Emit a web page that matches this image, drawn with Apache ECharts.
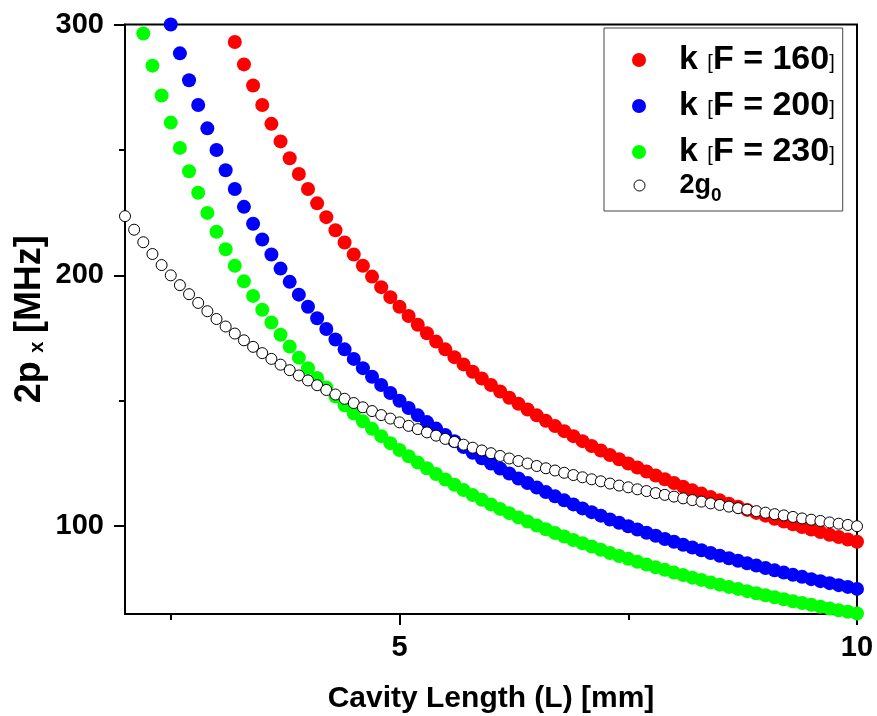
<!DOCTYPE html>
<html>
<head>
<meta charset="utf-8">
<script src="https://cdn.jsdelivr.net/npm/echarts@6/dist/echarts.min.js"></script>
<style>
html,body{margin:0;padding:0;background:#fff;}
#c{width:877px;height:716px;}
</style>
</head>
<body>
<div id="c"></div>
<script>
// Cavity length L [mm]
const lengths = [
  2.0,2.1,2.2,2.3,2.4,2.5,2.6,2.7,2.8,2.9,
  3.0,3.1,3.2,3.3,3.4,3.5,3.6,3.7,3.8,3.9,
  4.0,4.1,4.2,4.3,4.4,4.5,4.6,4.7,4.8,4.9,
  5.0,5.1,5.2,5.3,5.4,5.5,5.6,5.7,5.8,5.9,
  6.0,6.1,6.2,6.3,6.4,6.5,6.6,6.7,6.8,6.9,
  7.0,7.1,7.2,7.3,7.4,7.5,7.6,7.7,7.8,7.9,
  8.0,8.1,8.2,8.3,8.4,8.5,8.6,8.7,8.8,8.9,
  9.0,9.1,9.2,9.3,9.4,9.5,9.6,9.7,9.8,9.9,
  10.0
];
// k [F = 160]
const kF160 = [
  null,null,null,null,null,null,null,null,null,null,
  null,null,293.0,284.1,275.7,267.9,260.4,253.4,246.7,240.4,
  234.4,228.7,223.2,218.0,213.1,208.3,203.8,199.5,195.3,191.3,
  187.5,183.8,180.3,176.9,173.6,170.5,167.4,164.5,161.6,158.9,
  156.3,153.7,151.2,148.8,146.5,144.2,142.0,139.9,137.9,135.9,
  133.9,132.0,130.2,128.4,126.7,125.0,123.4,121.8,120.2,118.7,
  117.2,115.7,114.3,113.0,111.6,110.3,109.0,107.8,106.5,105.3,
  104.2,103.0,101.9,100.8,99.7,98.7,97.7,96.6,95.7,94.7,
  93.8
];
// k [F = 200]
const kF200 = [
  null,null,null,null,null,300.0,288.5,277.8,267.9,258.6,
  250.0,241.9,234.4,227.3,220.6,214.3,208.3,202.7,197.4,192.3,
  187.5,182.9,178.6,174.4,170.5,166.7,163.0,159.6,156.3,153.1,
  150.0,147.1,144.2,141.5,138.9,136.4,133.9,131.6,129.3,127.1,
  125.0,123.0,121.0,119.0,117.2,115.4,113.6,111.9,110.3,108.7,
  107.1,105.6,104.2,102.7,101.4,100.0,98.7,97.4,96.2,94.9,
  93.8,92.6,91.5,90.4,89.3,88.2,87.2,86.2,85.2,84.3,
  83.3,82.4,81.5,80.6,79.8,78.9,78.1,77.3,76.5,75.8,
  75.0
];
// k [F = 230]
const kF230 = [
  null,null,296.4,283.6,271.7,260.9,250.8,241.5,232.9,224.9,
  217.4,210.4,203.8,197.6,191.8,186.3,181.2,176.3,171.6,167.2,
  163.0,159.1,155.3,151.7,148.2,144.9,141.8,138.8,135.9,133.1,
  130.4,127.9,125.4,123.1,120.8,118.6,116.5,114.4,112.4,110.5,
  108.7,106.9,105.2,103.5,101.9,100.3,98.8,97.3,95.9,94.5,
  93.2,91.9,90.6,89.3,88.1,87.0,85.8,84.7,83.6,82.6,
  81.5,80.5,79.5,78.6,77.6,76.7,75.8,75.0,74.1,73.3,
  72.5,71.7,70.9,70.1,69.4,68.7,67.9,67.2,66.5,65.9,
  65.2
];
// 2g0
const twoG0 = [
  223.6,218.2,213.2,208.5,204.1,200.0,196.1,192.5,189.0,185.7,
  182.6,179.6,176.8,174.1,171.5,169.0,166.7,164.4,162.2,160.1,
  158.1,156.2,154.3,152.5,150.8,149.1,147.4,145.9,144.3,142.9,
  141.4,140.0,138.7,137.4,136.1,134.8,133.6,132.5,131.3,130.2,
  129.1,128.0,127.0,126.0,125.0,124.0,123.1,122.2,121.3,120.4,
  119.5,118.7,117.9,117.0,116.2,115.5,114.7,114.0,113.2,112.5,
  111.8,111.1,110.4,109.8,109.1,108.5,107.8,107.2,106.6,106.0,
  105.4,104.8,104.3,103.7,103.1,102.6,102.1,101.5,101.0,100.5,
  100.0
];
const seriesNames = ['k [F = 160]', 'k [F = 200]', 'k [F = 230]', '2g₀'];
const xMajorTicks = [5, 10];
const xMinorTicks = [2.5, 7.5];
const yMajorTicks = [100, 200, 300];
const yMinorTicks = [150, 250];
const xRange = [2, 10];
const yRange = [65, 300];

const FONT = '"Liberation Sans", Arial, sans-serif';

function pairs(arr) {
  return lengths.map((x, i) => [x, arr[i]]).filter(p => p[1] !== null);
}

const chart = echarts.init(document.getElementById('c'), null, {renderer: 'canvas'});

const legendRich = {
  m: {fontFamily: FONT, fontSize: 34, fontWeight: 'bold', color: '#000', lineHeight: 40},
  br: {fontFamily: FONT, fontSize: 20, fontWeight: 'normal', color: '#000', lineHeight: 40, height: 33, verticalAlign: 'bottom'},
  g: {fontFamily: FONT, fontSize: 27, fontWeight: 'bold', color: '#000', lineHeight: 30},
  sub: {fontFamily: FONT, fontSize: 19, fontWeight: 'bold', color: '#000', lineHeight: 30, height: 10, verticalAlign: 'bottom'}
};

function legendFormatter(name) {
  if (name === seriesNames[3]) return '{g|2g}{sub|0}';
  const m = name.match(/^k \[(.*)\]$/);
  return '{m|k }{br|[}{m|' + m[1] + '}{br|]}';
}

const axisLineStyle = {color: '#000', width: 2};

const option = {
  animation: false,
  backgroundColor: '#fff',
  grid: [
    {left: 125, right: 20, top: 24.5, bottom: 102, show: true, borderColor: '#000', borderWidth: 2, backgroundColor: 'transparent', outerBoundsMode: 'none'},
    {left: 125, right: 20, top: 24.5, bottom: 102, show: false, outerBoundsMode: 'none'}
  ],
  xAxis: [
    {
      gridIndex: 0, type: 'value', min: xRange[0], max: xRange[1], position: 'bottom',
      axisLine: {show: true, onZero: false, lineStyle: axisLineStyle},
      axisTick: {show: true, customValues: xMajorTicks, length: 11, inside: false, lineStyle: {color: '#000', width: 2}},
      axisLabel: {show: true, customValues: xMajorTicks, margin: 19, color: '#000', fontFamily: FONT, fontSize: 29, fontWeight: 'bold'},
      splitLine: {show: false},
      name: 'Cavity Length (L) [mm]', nameLocation: 'middle', nameGap: 70, nameMoveOverlap: false,
      nameTextStyle: {color: '#000', fontFamily: FONT, fontSize: 30, fontWeight: 'bold'}
    },
    {
      gridIndex: 1, type: 'value', min: xRange[0], max: xRange[1], position: 'bottom',
      axisLine: {show: false, onZero: false},
      axisTick: {show: true, customValues: xMinorTicks, length: 6, inside: false, lineStyle: {color: '#000', width: 2}},
      axisLabel: {show: false},
      splitLine: {show: false}
    }
  ],
  yAxis: [
    {
      gridIndex: 0, type: 'value', min: yRange[0], max: yRange[1], position: 'left',
      axisLine: {show: true, onZero: false, lineStyle: axisLineStyle},
      axisTick: {show: true, customValues: yMajorTicks, length: 11, inside: false, lineStyle: {color: '#000', width: 2}},
      axisLabel: {show: true, customValues: yMajorTicks, margin: 21, color: '#000', fontFamily: FONT, fontSize: 29, fontWeight: 'bold'},
      splitLine: {show: false},
      name: '{a|2p}{s| x }{a|[MHz]}', nameLocation: 'middle', nameGap: 74, nameMoveOverlap: false,
      nameTextStyle: {
        color: '#000',
        rich: {
          a: {fontFamily: FONT, fontSize: 36, fontWeight: 'bold', color: '#000', lineHeight: 42},
          s: {fontFamily: FONT, fontSize: 20, fontWeight: 'bold', color: '#000', lineHeight: 42, height: 27, verticalAlign: 'bottom', padding: [0, 3, 0, 3]}
        }
      }
    },
    {
      gridIndex: 1, type: 'value', min: yRange[0], max: yRange[1], position: 'left',
      axisLine: {show: false, onZero: false},
      axisTick: {show: true, customValues: yMinorTicks, length: 6, inside: false, lineStyle: {color: '#000', width: 2}},
      axisLabel: {show: false},
      splitLine: {show: false}
    }
  ],
  legend: [
    {
      orient: 'vertical',
      left: 604, top: 28,
      padding: [15, 8, 39, 28],
      itemGap: 9,
      itemWidth: 70, itemHeight: 14,
      borderColor: '#444', borderWidth: 1, backgroundColor: '#fff',
      selectedMode: false,
      formatter: legendFormatter,
      textStyle: {color: '#000', rich: legendRich},
      data: [
        {name: seriesNames[0], icon: 'circle'},
        {name: seriesNames[1], icon: 'circle'},
        {name: seriesNames[2], icon: 'circle'}
      ],
      z: 4
    },
    {
      orient: 'vertical',
      left: 604, top: 172,
      padding: [0, 0, 0, 28],
      itemWidth: 70, itemHeight: 14,
      symbolKeepAspect: true,
      borderWidth: 0, backgroundColor: 'transparent',
      selectedMode: false,
      formatter: legendFormatter,
      textStyle: {color: '#000', rich: legendRich},
      data: [
        {name: seriesNames[3], icon: 'path://M0,0M14,14M12.5,7A5.5,5.5,0,1,1,1.5,7A5.5,5.5,0,1,1,12.5,7Z',
         itemStyle: {color: '#fff', borderColor: '#000', borderWidth: 1}}
      ],
      z: 6
    }
  ],
  series: [
    {name: seriesNames[0], type: 'scatter', xAxisIndex: 0, yAxisIndex: 0, data: pairs(kF160), symbol: 'circle', symbolSize: 14, clip: true, itemStyle: {color: '#ff0000', opacity: 1}, z: 2},
    {name: seriesNames[1], type: 'scatter', xAxisIndex: 0, yAxisIndex: 0, data: pairs(kF200), symbol: 'circle', symbolSize: 14, clip: true, itemStyle: {color: '#0000ff', opacity: 1}, z: 3},
    {name: seriesNames[2], type: 'scatter', xAxisIndex: 0, yAxisIndex: 0, data: pairs(kF230), symbol: 'circle', symbolSize: 14, clip: true, itemStyle: {color: '#00ff00', opacity: 1}, z: 4},
    {name: seriesNames[3], type: 'scatter', xAxisIndex: 0, yAxisIndex: 0, data: pairs(twoG0), symbol: 'circle', symbolSize: 11, clip: true, itemStyle: {color: '#ffffff', borderColor: '#000', borderWidth: 1, opacity: 1}, z: 5}
  ]
};
chart.setOption(option);
</script>
</body>
</html>
